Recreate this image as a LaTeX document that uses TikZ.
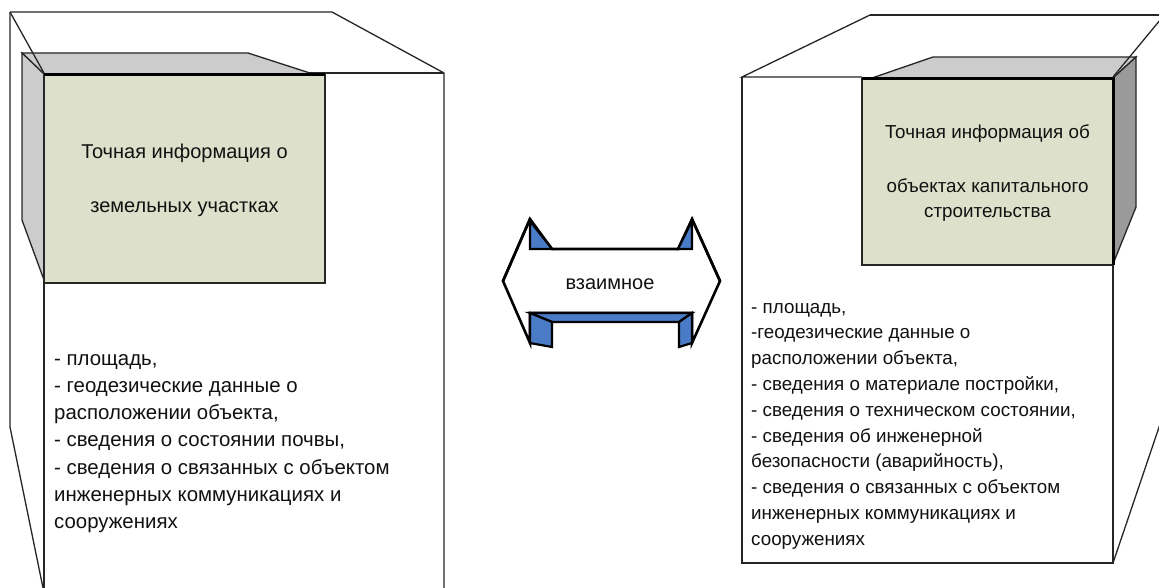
\documentclass[tikz,border=0pt]{standalone}
\usepackage{fontspec}
\setmainfont{Liberation Sans}
\definecolor{boxgreen}{HTML}{DDE1CB}
\definecolor{lightgrayface}{HTML}{CCCCCC}
\definecolor{darkgrayface}{HTML}{9A9A9A}
\definecolor{arrowblue}{HTML}{4A7BC6}
\definecolor{txtcol}{HTML}{111111}
\tikzset{
  cubeline/.style={draw=black!85, line width=1.3pt, line join=miter},
  frontface/.style={fill=boxgreen, draw=black!85, line width=1.4pt},
  topface/.style={fill=lightgrayface, draw=black!85, line width=1.3pt},
  sideface/.style={fill=darkgrayface, draw=black!85, line width=1.3pt},
  thickedge/.style={draw=black, line width=3pt},
  arrowline/.style={draw=black, line width=2.6pt, line join=miter},
  bluepart/.style={fill=arrowblue, draw=black, line width=2.2pt, line join=miter},
  lefttxt/.style={font=\fontsize{20}{24}\selectfont, text=txtcol, inner sep=0pt},
  listtxt/.style={font=\fontsize{20.4}{24}\selectfont, text=txtcol, inner sep=0pt},
  righttxt/.style={font=\fontsize{18.8}{22}\selectfont, text=txtcol, inner sep=0pt}
}
\begin{document}
\begin{tikzpicture}[x=1pt,y=-1pt]
\useasboundingbox (0,0) rectangle (1159,587);
\clip (0,0) rectangle (1159,587);
\fill[white] (0,0) rectangle (1159,587);

% ---------- left block ----------
\draw[cubeline] (10,12) -- (332,12) -- (444,73) -- (444,600);
\draw[cubeline] (44,73) -- (444,73);
\draw[cubeline] (10,12) -- (10,427) -- (45.5,600);
\draw[cubeline] (44,73) -- (44,600);
% green box
\draw[topface] (22,53) -- (248,53) -- (313,74) -- (44,74) -- cycle;
\draw[topface] (22,53) -- (44,74) -- (44,280) -- (22,220) -- cycle;
\draw[frontface] (44,74) rectangle (325,283);
\draw[thickedge] (44,74) -- (325,74);
\draw[cubeline] (10,12) -- (44,73);
\node[lefttxt, anchor=base] (lt1) at (184.5,158) {Точная информация о};
\node[lefttxt, anchor=base] (lt2) at (184.5,212) {земельных участках};
\foreach \t [count=\i from 0] in {{- площадь,},{- геодезические данные о},{расположении объекта,},{- сведения о состоянии почвы,},{- сведения о связанных с объектом},{инженерных коммуникациях и},{сооружениях}}
  \node[listtxt, anchor=base west] (ll\i) at (54,365+27.3*\i) {\t};

% ---------- right block ----------
\draw[cubeline] (870,15) -- (1170,15);
\draw[cubeline] (870,15) -- (742,77) -- (862,77);
\draw[cubeline] (742,77) -- (742,563) -- (1113,563) -- (1113,265);
\draw[cubeline] (1113,563) -- (1175,380);
\draw[topface] (872,78) -- (933,57) -- (1136,57) -- (1113,78) -- cycle;
\draw[sideface] (1113,78) -- (1136,57) -- (1136,207) -- (1113,264) -- cycle;
\draw[frontface] (862,79) rectangle (1113,265);
\draw[thickedge] (862,78) -- (1113,78) -- (1113,265);
\draw[cubeline] (1170,8) -- (1113,77);
\node[righttxt, anchor=base] (rt1) at (987.5,138) {Точная информация об};
\node[righttxt, anchor=base] (rt2) at (987.5,192) {объектах капитального};
\node[righttxt, anchor=base] (rt3) at (987.5,217) {строительства};
\foreach \t [count=\i from 0] in {{- площадь,},{-геодезические данные о},{расположении объекта,},{- сведения о материале постройки,},{- сведения о техническом состоянии,},{- сведения об инженерной},{безопасности (аварийность),},{- сведения о связанных с объектом},{инженерных коммуникациях и},{сооружениях}}
  \node[righttxt, anchor=base west] (rl\i) at (751,313+25.8*\i) {\t};

% ---------- middle double arrow ----------
\draw[arrowline, fill=white] (503,281) -- (530,219) -- (552,249) -- (678,249) -- (692,219)
  -- (720,281) -- (692,343) -- (692,313) -- (530,313) -- (530,343) -- cycle;
\draw[bluepart] (530,221) -- (552,249) -- (530,249) -- cycle;
\draw[bluepart] (692,221) -- (678,249) -- (692,249) -- cycle;
\draw[bluepart] (530,313) -- (692,313) -- (679,322) -- (552,322) -- cycle;
\draw[bluepart] (530,313) -- (552,322) -- (552,347) -- (530,343) -- cycle;
\draw[bluepart] (692,313) -- (679,322) -- (679,347) -- (692,343) -- cycle;
\draw[arrowline] (503,281) -- (530,219);
\draw[arrowline] (720,281) -- (692,219);
\node[lefttxt, anchor=base] (mid) at (610,289) {взаимное};
\end{tikzpicture}
\end{document}
